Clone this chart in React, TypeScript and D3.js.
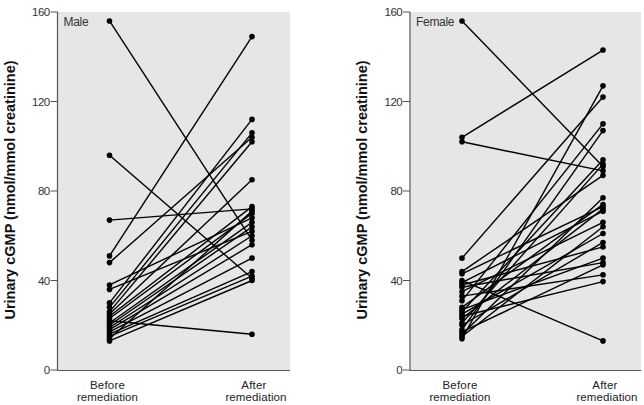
import React from "react";
import * as d3 from "d3";

const groups = ["Before", "After"];
const yTicks = [0, 40, 80, 120, 160];

const maleBefore = [156, 96, 67, 51, 48, 38, 36, 30, 28, 26, 25, 24, 23, 22, 21, 20, 19, 18, 17, 16, 15, 14, 13];
const maleAfter = [58, 41, 72, 149, 104, 68, 62, 112, 106, 102, 85, 73, 70, 16, 66, 64, 60, 56, 50, 44, 42, 71, 40];

const femaleBefore = [156, 104, 102, 50, 40, 44, 43, 39, 38, 37, 35, 33, 31, 28, 27, 26, 25, 24, 23, 21, 20, 18, 17, 16, 15, 14];
const femaleAfter = [91, 143, 89, 122, 13, 87, 73, 71, 55, 48, 66, 42.5, 110, 74, 50, 94, 61, 39.5, 72, 92, 57, 107, 47, 77, 64, 127];

const FONT = "'Liberation Sans Narrow', 'Arial Narrow', 'Liberation Sans', sans-serif";

function Panel({ axisX, right, title, before, after }: { axisX: number; right: number; title: string; before: number[]; after: number[] }) {
  const y = d3.scaleLinear().domain([0, 160]).range([370, 12]);
  const x = d3.scalePoint<string>().domain(groups).range([axisX + 52, right - 38]);
  const line = d3.line<[string, number]>().x((d) => x(d[0]) as number).y((d) => y(d[1]));
  return (
    <g>
      <rect x={axisX + 0.5} y={12} width={right - axisX - 0.5} height={358} fill="#e6e6e6" />
      <line x1={axisX} x2={axisX} y1={12} y2={370.5} stroke="#555" strokeWidth={1.2} />
      <line x1={axisX} x2={right} y1={370.5} y2={370.5} stroke="#555" strokeWidth={1.2} />
      {yTicks.map((t) => (
        <g key={t}>
          <line x1={axisX - 7} x2={axisX} y1={y(t)} y2={y(t)} stroke="#555" strokeWidth={1} />
          <text x={axisX - 8} y={y(t) + 4} textAnchor="end" fontSize={11.5} fontFamily={FONT} fill="#333" letterSpacing={-0.6}>{t}</text>
        </g>
      ))}
      <text x={axisX + 6} y={26} fontSize={12} fontFamily={FONT} fill="#333" letterSpacing={-0.3}>{title}</text>
      {before.map((b, i) => (
        <path key={"l" + i} d={line([["Before", b], ["After", after[i]]]) as string} stroke="#000" strokeWidth={1.4} fill="none" />
      ))}
      {before.map((b, i) => (
        <g key={"p" + i}>
          <circle cx={x("Before")} cy={y(b)} r={2.8} fill="#000" />
          <circle cx={x("After")} cy={y(after[i])} r={2.8} fill="#000" />
        </g>
      ))}
      {groups.map((g) => {
        const cx = (x(g) as number) + (g === "After" ? 4 : -2);
        return (
          <g key={g}>
            <text x={g === "After" ? cx - 2 : cx} y={389} textAnchor="middle" fontSize={11.5} fontFamily={FONT} fill="#222" letterSpacing={0.2}>{g}</text>
            <text x={cx} y={400.5} textAnchor="middle" fontSize={11.5} fontFamily={FONT} fill="#222" letterSpacing={0.1}>remediation</text>
          </g>
        );
      })}
      <text
        transform={`translate(${axisX - 43},190) rotate(-90)`}
        textAnchor="middle"
        fontSize={14.5}
        fontWeight="bold"
        fontFamily="'Liberation Sans', Arial, sans-serif"
        fill="#111"
      >
        Urinary cGMP (nmol/mmol creatinine)
      </text>
    </g>
  );
}

export default function App() {
  return (
    <svg width={644} height={405} style={{ position: "absolute", left: 0, top: 0, background: "#fff" }}>
      <Panel axisX={57.5} right={290} title="Male" before={maleBefore} after={maleAfter} />
      <Panel axisX={410} right={641} title="Female" before={femaleBefore} after={femaleAfter} />
    </svg>
  );
}
